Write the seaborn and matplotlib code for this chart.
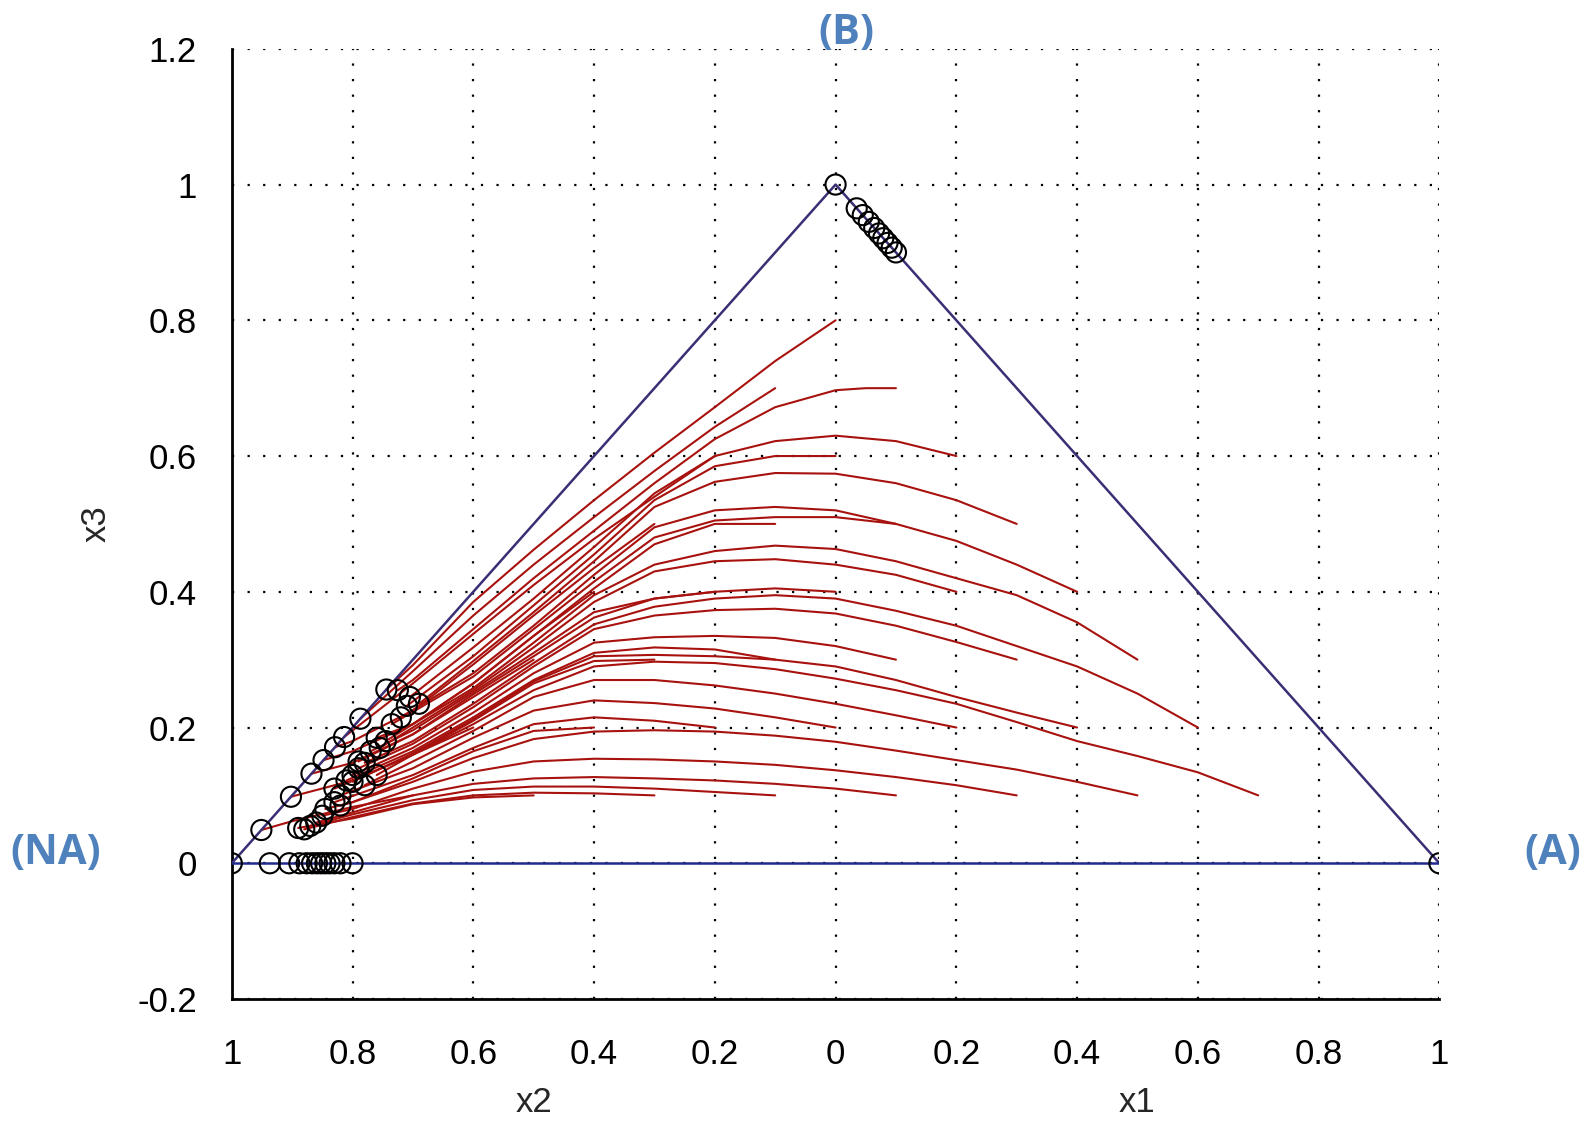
import matplotlib
matplotlib.use("Agg")
import matplotlib.pyplot as plt
import seaborn as sns
import pandas as pd

# ---------------- axis ticks ----------------
x_ticks = [-1.0, -0.8, -0.6, -0.4, -0.2, 0.0, 0.2, 0.4, 0.6, 0.8, 1.0]
x_tick_labels = ["1", "0.8", "0.6", "0.4", "0.2", "0", "0.2", "0.4", "0.6", "0.8", "1"]
y_ticks = [-0.2, 0.0, 0.2, 0.4, 0.6, 0.8, 1.0, 1.2]
y_tick_labels = ["-0.2", "0", "0.2", "0.4", "0.6", "0.8", "1", "1.2"]

# ---------------- triangle ----------------
side_x = [-1.0, 0.0, 1.0]
side_y = [0.0, 1.0, 0.0]
base_x = [-1.0, 1.0]
base_y = [0.0, 0.0]

# ---------------- trajectories (start at right end, circle at left end) ----------------
c01 = ([0, -.1, -.2, -.3, -.4, -.5, -.6, -.7, -.744], [.80, .74, .672, .605, .535, .462, .385, .292, .256])
c02 = ([-.1, -.2, -.3, -.4, -.5, -.6, -.7, -.787], [.70, .643, .578, .51, .44, .365, .283, .213])
c03 = ([.1, .05, 0, -.1, -.2, -.3, -.4, -.5, -.6, -.7, -.725], [.70, .70, .697, .672, .625, .56, .49, .42, .345, .27, .255])
c04 = ([-.2, -.3, -.4, -.5, -.6, -.7, -.814], [.60, .54, .478, .41, .338, .265, .186])
c05 = ([.2, .1, 0, -.1, -.2, -.3, -.4, -.5, -.6, -.705], [.60, .622, .63, .622, .60, .545, .466, .39, .318, .245])
c06 = ([0, -.1, -.2, -.3, -.4, -.5, -.6, -.71], [.60, .60, .585, .535, .455, .38, .305, .232])
c07 = ([.3, .2, .1, 0, -.1, -.2, -.3, -.4, -.5, -.6, -.69], [.50, .535, .56, .574, .575, .562, .525, .445, .37, .298, .235])
c08 = ([-.3, -.4, -.5, -.6, -.7, -.8, -.829], [.50, .435, .365, .293, .225, .18, .171])
c09 = ([.4, .3, .2, .1, 0, -.1, -.2, -.3, -.4, -.5, -.6, -.72], [.40, .44, .475, .50, .52, .525, .52, .495, .425, .35, .28, .215])
c10 = ([.1, 0, -.1, -.2, -.3, -.4, -.5, -.6, -.735], [.50, .51, .51, .505, .48, .415, .345, .275, .205])
c11 = ([-.1, -.2, -.3, -.4, -.5, -.6, -.7, -.76], [.50, .50, .47, .405, .335, .265, .205, .185])
c12 = ([-.4, -.5, -.6, -.7, -.8, -.848], [.40, .335, .265, .205, .165, .152])
c13 = ([.5, .4, .3, .2, .1, 0, -.1, -.2, -.3, -.4, -.5, -.6, -.7, -.745], [.30, .355, .395, .42, .445, .463, .468, .46, .44, .395, .325, .258, .205, .18])
c14 = ([.2, .1, 0, -.1, -.2, -.3, -.4, -.5, -.6, -.7, -.755], [.40, .425, .44, .448, .445, .43, .385, .318, .255, .20, .17])
c15 = ([0, -.1, -.2, -.3, -.4, -.5, -.6, -.7, -.77], [.40, .405, .40, .39, .37, .31, .252, .196, .165])
c16 = ([-.2, -.3, -.4, -.5, -.6, -.7, -.79], [.40, .39, .362, .305, .249, .19, .15])
c17 = ([.6, .5, .4, .3, .2, .1, 0, -.1, -.2, -.3, -.4, -.5, -.6, -.7, -.78], [.20, .25, .29, .32, .35, .372, .39, .395, .39, .378, .352, .295, .235, .18, .148])
c18 = ([.3, .2, .1, 0, -.1, -.2, -.3, -.4, -.5, -.6, -.7, -.79], [.30, .326, .35, .368, .375, .373, .365, .345, .29, .23, .176, .14])
c19 = ([.1, 0, -.1, -.2, -.3, -.4, -.5, -.6, -.7, -.8], [.30, .32, .332, .335, .333, .325, .28, .222, .17, .13])
c20 = ([-.1, -.2, -.3, -.4, -.5, -.6, -.7, -.81], [.30, .315, .318, .31, .27, .215, .165, .122])
c21 = ([.4, .3, .2, .1, 0, -.1, -.2, -.3, -.4, -.5, -.6, -.7, -.8], [.20, .222, .245, .27, .29, .30, .305, .307, .305, .268, .212, .162, .12])
c22 = ([-.3, -.4, -.5, -.6, -.7, -.83], [.30, .298, .265, .21, .16, .11])
c23 = ([.7, .6, .5, .4, .3, .2, .1, 0, -.1, -.2, -.3, -.4, -.5, -.6, -.7, -.76], [.10, .134, .158, .18, .208, .235, .255, .272, .286, .295, .297, .29, .255, .205, .16, .13])
c24 = ([.2, .1, 0, -.1, -.2, -.3, -.4, -.5, -.6, -.7, -.78], [.20, .218, .235, .25, .262, .27, .27, .245, .195, .15, .115])
c25 = ([-.5, -.6, -.7, -.8, -.868], [.30, .245, .19, .148, .132])
c26 = ([0, -.1, -.2, -.3, -.4, -.5, -.6, -.7, -.82], [.20, .215, .228, .236, .24, .225, .185, .14, .10])
c27 = ([-.2, -.3, -.4, -.5, -.6, -.7, -.83], [.20, .21, .215, .205, .17, .13, .09])
c28 = ([.5, .4, .3, .2, .1, 0, -.1, -.2, -.3, -.4, -.5, -.6, -.7, -.8, -.82], [.10, .12, .138, .152, .166, .179, .188, .194, .196, .194, .183, .155, .12, .09, .085])
c29 = ([-.4, -.5, -.6, -.7, -.8, -.845], [.20, .195, .165, .125, .09, .08])
c30 = ([.3, .2, .1, 0, -.1, -.2, -.3, -.4, -.5, -.6, -.7, -.8, -.85], [.10, .115, .127, .137, .145, .15, .153, .154, .15, .135, .11, .08, .07])
c31 = ([-.6, -.7, -.8, -.902], [.20, .16, .122, .098])
c32 = ([.1, 0, -.1, -.2, -.3, -.4, -.5, -.6, -.7, -.8, -.86], [.10, .11, .117, .122, .125, .127, .125, .117, .10, .075, .06])
c33 = ([-.1, -.2, -.3, -.4, -.5, -.6, -.7, -.8, -.87], [.10, .105, .11, .113, .113, .108, .093, .072, .055])
c34 = ([-.3, -.4, -.5, -.6, -.7, -.8, -.88], [.10, .103, .104, .10, .088, .068, .05])
c35 = ([-.5, -.6, -.7, -.8, -.89], [.10, .097, .087, .066, .052])
c36 = ([-.7, -.8, -.9, -.951], [.10, .083, .062, .049])

curves = [c01, c02, c03, c04, c05, c06, c07, c08, c09, c10, c11, c12, c13, c14, c15, c16, c17, c18,
          c19, c20, c21, c22, c23, c24, c25, c26, c27, c28, c29, c30, c31, c32, c33, c34, c35, c36]

# end points of trajectories lying on the edges
base_end_x = [-0.937, -0.905, -0.888, -0.876, -0.867, -0.859, -0.852, -0.845, -0.838, -0.83, -0.82, -0.80]
ab_end_x = [0.035, 0.045, 0.055, 0.064, 0.072, 0.079, 0.086, 0.093, 0.10]
ab_end_y = [0.965, 0.955, 0.945, 0.936, 0.928, 0.921, 0.914, 0.907, 0.90]
vertex_x = [-1.0, 0.0, 1.0]
vertex_y = [0.0, 1.0, 0.0]

# ---------------- build tables ----------------
rows = []
for i, (xs, ys) in enumerate(curves):
    for x, y in zip(xs, ys):
        rows.append({"curve": i, "x": x, "y": y})
df_curves = pd.DataFrame(rows)

ends = pd.DataFrame({"x": [c[0][-1] for c in curves] + base_end_x + ab_end_x + vertex_x,
                     "y": [c[1][-1] for c in curves] + [0.0] * len(base_end_x) + ab_end_y + vertex_y})

# ---------------- figure ----------------
sns.set_style("white")
plt.rcParams["font.family"] = ["Liberation Sans", "DejaVu Sans"]

fig = plt.figure(figsize=(15.94, 11.25), dpi=100)
ax = fig.add_axes([0.1454, 0.112, 0.7576, 0.8446])

sns.lineplot(data=df_curves, x="x", y="y", units="curve", estimator=None, sort=False,
             color="#a8120e", linewidth=1.5, ax=ax, legend=False, zorder=3)

ax.plot(side_x, side_y, color="#3a2f75", linewidth=1.8, zorder=4)
ax.plot(base_x, base_y, color="#1f2a8c", linewidth=1.8, zorder=4)

sns.scatterplot(data=ends, x="x", y="y", marker="o", s=210, facecolors="none",
                edgecolor="black", linewidth=1.5, ax=ax, zorder=5, legend=False)

ax.set_xlim(-1.0, 1.0)
ax.set_ylim(-0.2, 1.2)
ax.set_xticks(x_ticks)
ax.set_xticklabels(x_tick_labels)
ax.set_yticks(y_ticks)
ax.set_yticklabels(y_tick_labels)
ax.grid(True, color="black", linestyle=(0, (1, 6)), linewidth=1.6)
for s in ["top", "right"]:
    ax.spines[s].set_visible(False)
for s in ["left", "bottom"]:
    ax.spines[s].set_color("black")
    ax.spines[s].set_linewidth(2.0)
ax.tick_params(axis="both", direction="out", length=17, width=1.8, labelsize=25, colors="black")
ax.tick_params(axis="x", pad=11)
ax.tick_params(axis="y", pad=8)
ax.set_xlabel("")
ax.set_ylabel("")

ax.text(-0.5, -0.109, "x2", transform=ax.get_xaxis_transform(), ha="center", va="center", fontsize=25)
ax.text(0.5, -0.109, "x1", transform=ax.get_xaxis_transform(), ha="center", va="center", fontsize=25)
ax.text(-0.112, 0.5, "x3", transform=ax.transAxes, ha="center", va="center", rotation=90, fontsize=25)

lab_kw = dict(color="#4f81bd", fontsize=30, fontweight="bold", family=["Open Sans", "DejaVu Sans"],
              ha="center", va="center")
fig.text(0.035, 0.241, "(NA)", **lab_kw)
fig.text(0.974, 0.241, "(A)", **lab_kw)
fig.text(0.531, 0.970, "(B)", **lab_kw)

fig.savefig("out.png", dpi=100)
